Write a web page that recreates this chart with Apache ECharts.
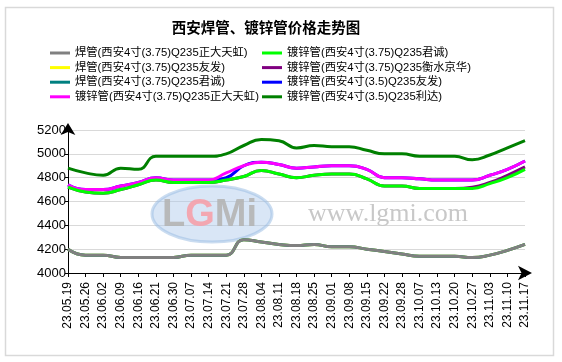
<!DOCTYPE html>
<html>
<head>
<meta charset="utf-8">
<script src="https://cdn.jsdelivr.net/npm/echarts@6/dist/echarts.min.js"></script>
<style>
html,body{margin:0;padding:0;background:#fff;}
#c{width:562px;height:362px;}
</style>
</head>
<body>
<div id="c"></div>
<script>
var categories = ['23.05.19','23.05.26','23.06.02','23.06.09','23.06.16','23.06.21','23.06.30','23.07.07','23.07.14','23.07.21','23.07.28','23.08.04','23.08.11','23.08.18','23.08.25','23.09.01','23.09.08','23.09.15','23.09.22','23.09.28','23.10.07','23.10.13','23.10.20','23.10.27','23.11.03','23.11.10','23.11.17'];

var yTicks = {min: 4000, max: 5200, interval: 200};

var weldZDTH = [4200,4150,4150,4130,4130,4130,4130,4150,4150,4150,4280,4260,4240,4230,4240,4220,4220,4200,4180,4160,4140,4140,4140,4130,4150,4190,4240];
var weldYF   = [4200,4150,4150,4130,4130,4130,4130,4150,4150,4150,4280,4260,4240,4230,4240,4220,4220,4200,4180,4160,4140,4140,4140,4130,4150,4190,4240];
var weldJC   = [4200,4150,4150,4130,4130,4130,4130,4150,4150,4150,4280,4260,4240,4230,4240,4220,4220,4200,4180,4160,4140,4140,4140,4130,4150,4190,4240];
var galvZDTH = [4740,4700,4700,4730,4760,4800,4780,4780,4780,4840,4900,4930,4910,4880,4890,4900,4900,4870,4800,4800,4790,4780,4780,4780,4820,4870,4940];
var galvJC   = [4720,4680,4670,4700,4740,4780,4760,4760,4760,4780,4810,4860,4830,4800,4820,4830,4830,4790,4730,4730,4710,4710,4710,4710,4750,4800,4870];
var galvHSJH = [4720,4680,4670,4700,4740,4780,4760,4760,4760,4780,4810,4860,4830,4800,4820,4830,4830,4790,4730,4730,4710,4710,4710,4720,4760,4820,4890];
var galvYF35 = [4740,4700,4700,4730,4760,4800,4780,4780,4780,4800,4900,4930,4910,4880,4890,4900,4900,4870,4800,4800,4790,4780,4780,4780,4820,4870,4940];
var galvLD35 = [4880,4840,4820,4880,4870,4980,4980,4980,4980,5000,5070,5120,5110,5050,5070,5060,5060,5030,5000,5000,4980,4980,4980,4950,4990,5050,5110];

var names = [
  '焊管(西安4寸(3.75)Q235正大天虹)',
  '焊管(西安4寸(3.75)Q235友发)',
  '焊管(西安4寸(3.75)Q235君诚)',
  '镀锌管(西安4寸(3.75)Q235正大天虹)',
  '镀锌管(西安4寸(3.75)Q235君诚)',
  '镀锌管(西安4寸(3.75)Q235衡水京华)',
  '镀锌管(西安4寸(3.5)Q235友发)',
  '镀锌管(西安4寸(3.5)Q235利达)'
];
var colors = ['#808080','#ffff00','#008080','#ff00ff','#00ff00','#800080','#0000ff','#008000'];
var datas = [weldZDTH, weldYF, weldJC, galvZDTH, galvJC, galvHSJH, galvYF35, galvLD35];
var zs = [4, 2, 2, 4, 4, 2, 2, 3];

var series = names.map(function(n, i){
  return {
    name: n, type: 'line', data: datas[i], smooth: 0.5, symbol: 'none',
    z: zs[i],
    lineStyle: {color: colors[i], width: 3},
    itemStyle: {color: colors[i]}
  };
});

var chart = echarts.init(document.getElementById('c'));
var font = '"Liberation Sans", Arial, "Noto Sans CJK SC", sans-serif';
var legendCommon = {
  orient: 'vertical', itemWidth: 20, itemHeight: 12, itemGap: 2.6, padding: 0,
  textStyle: {fontSize: 11.3, color: '#000', fontFamily: font, lineHeight: 12},
  icon: 'path://M0,5 L20,5 L20,8 L0,8 Z'
};
chart.setOption({
  animation: false,
  backgroundColor: '#fff',
  color: colors,
  title: {
    text: '西安焊管、镀锌管价格走势图', left: 261, top: 15, textAlign: 'center',
    textStyle: {fontSize: 14.5, fontWeight: 'bold', color: '#000', fontFamily: '"Noto Sans CJK SC", sans-serif'}
  },
  legend: [
    Object.assign({left: 50, top: 47, data: names.slice(0, 4)}, legendCommon),
    Object.assign({left: 262, top: 47, data: names.slice(4, 8)}, legendCommon)
  ],
  grid: {left: 68, right: 37, top: 130, bottom: 89, containLabel: false},
  graphic: [
    {type: 'rect', shape: {x: 5.5, y: 7.5, width: 548, height: 348}, style: {fill: 'none', stroke: '#d9d9d9', lineWidth: 1.5}, z: -10, silent: true},
    {type: 'ellipse', shape: {cx: 212, cy: 214, rx: 60, ry: 28}, style: {fill: 'rgba(170,200,235,0.45)', stroke: 'rgba(150,185,225,0.5)', lineWidth: 3}, z: 1, silent: true},
    {type: 'text', left: 162, top: 197, style: {
      text: '{g|L}{r|G}{g|M}{g|i}',
      rich: {
        g: {font: 'bold 38px "Liberation Sans", Arial', fill: 'rgba(180,180,180,0.9)'},
        r: {font: 'bold 38px "Liberation Sans", Arial', fill: 'rgba(245,160,170,0.9)'}
      }
    }, z: 1, silent: true},
    {type: 'text', left: 308, top: 201, style: {text: 'www.lgmi.com', font: '26px "Liberation Serif", "Times New Roman", serif', fill: '#c8c8c8'}, z: 1, silent: true}
  ],
  xAxis: {
    type: 'category', data: categories, boundaryGap: false,
    axisLine: {show: true, lineStyle: {color: '#000', width: 1}, symbol: ['none', 'arrow'], symbolSize: [11, 14], symbolOffset: [0, 7]},
    axisTick: {show: true, length: 4, interval: 0, lineStyle: {color: '#000'}},
    axisLabel: {rotate: 90, interval: 0, fontSize: 12, color: '#000', margin: 9, fontFamily: font},
    splitLine: {show: false}
  },
  yAxis: {
    type: 'value', min: yTicks.min, max: yTicks.max, interval: yTicks.interval,
    axisLine: {show: true, lineStyle: {color: '#000', width: 1}, symbol: ['none', 'arrow'], symbolSize: [11, 12], symbolOffset: [0, 7]},
    axisTick: {show: true, length: 3, lineStyle: {color: '#000'}},
    axisLabel: {fontSize: 13, color: '#000', margin: 2, fontFamily: font, formatter: function(v){ return String(v); }},
    splitLine: {show: true, lineStyle: {color: '#d9d9d9', width: 1}}
  },
  series: series
});
</script>
</body>
</html>
